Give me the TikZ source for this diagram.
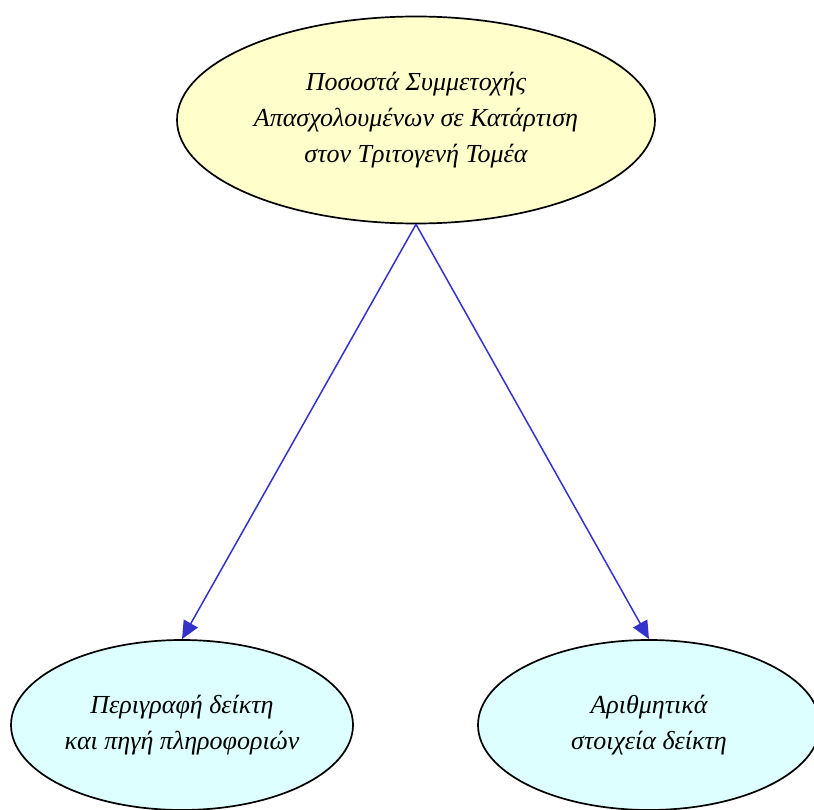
\documentclass[tikz,border=0pt]{standalone}
\usepackage{fontspec}
\setmainfont{Liberation Serif}
\usetikzlibrary{shapes.geometric,arrows.meta}
\definecolor{topfill}{HTML}{FFFFCC}
\definecolor{botfill}{HTML}{DDFFFF}
\definecolor{edgeblue}{HTML}{3333CC}
\tikzset{
  topnode/.style={ellipse, draw=black, line width=1.7pt, fill=topfill, minimum width=478pt, minimum height=207pt, inner sep=0pt, align=center, font=\fontsize{26}{36}\selectfont\itshape},
  botnode/.style={ellipse, draw=black, line width=1.7pt, fill=botfill, minimum width=342pt, minimum height=170pt, inner sep=0pt, align=center, font=\fontsize{26}{36}\selectfont\itshape},
  conn/.style={draw=edgeblue, line width=1.5pt, -{Triangle[length=18pt,width=16pt]}}
}
\begin{document}
\begin{tikzpicture}[x=1pt,y=-1pt]
\useasboundingbox (0,0) rectangle (814,810);
\node[topnode] (top) at (416,120) {Ποσοστά Συμμετοχής\\Απασχολουμένων σε Κατάρτιση\\στον Τριτογενή Τομέα};
\node[botnode] (left) at (182,725) {Περιγραφή δείκτη\\και πηγή πληροφοριών};
\node[botnode] (right) at (649,725) {Αριθμητικά\\στοιχεία δείκτη};
\draw[conn] (top.south) -- (left.north);
\draw[conn] (top.south) -- (right.north);
\end{tikzpicture}
\end{document}
